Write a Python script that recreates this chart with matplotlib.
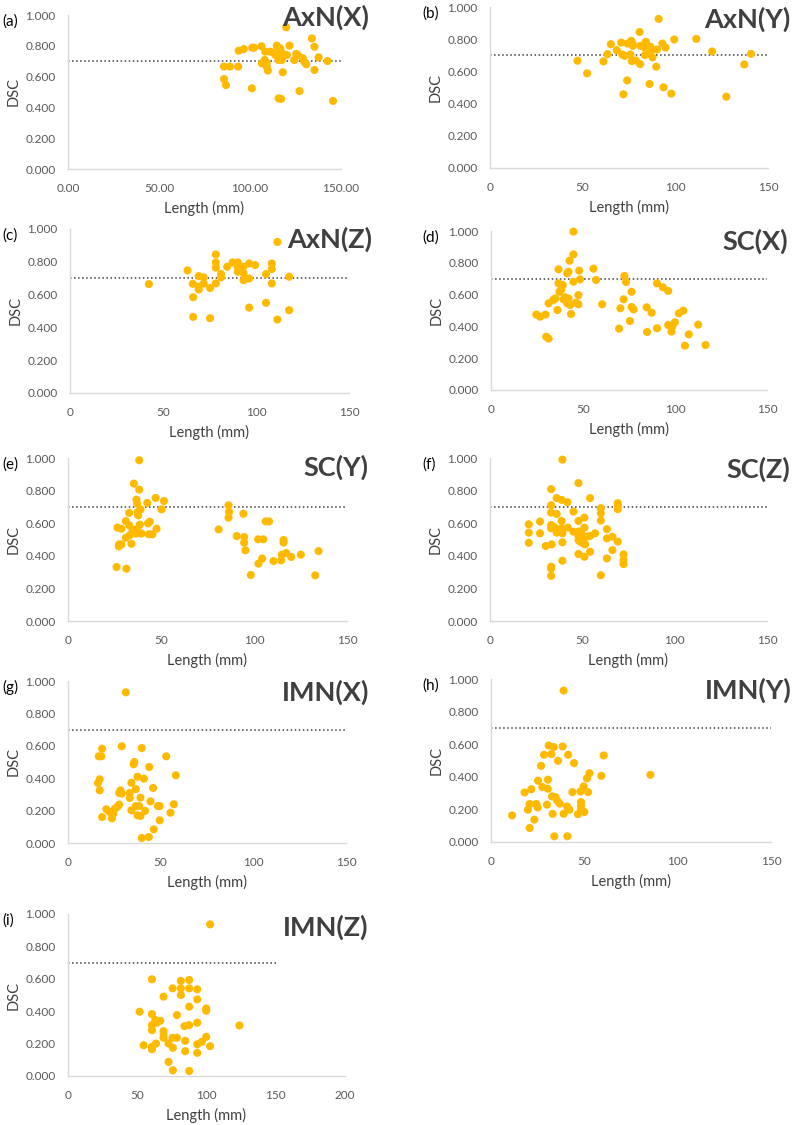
import matplotlib
matplotlib.use('Agg')
from matplotlib import pyplot as plt
from matplotlib.ticker import FormatStrFormatter

plt.rcParams['font.family'] = ['Lato', 'DejaVu Sans']

# panel names
panel_tags = ['(a)', '(b)', '(c)', '(d)', '(e)', '(f)', '(g)', '(h)', '(i)']
panel_names = ['AxN(X)', 'AxN(Y)', 'AxN(Z)', 'SC(X)', 'SC(Y)', 'SC(Z)', 'IMN(X)', 'IMN(Y)', 'IMN(Z)']

# threshold line
thr_x = [0, 150]
thr_y = [0.70, 0.70]

# (a) AxN(X)
a_len = [85.7, 85.7, 89.0, 86.8, 93.5, 93.8, 96.6, 101.2, 102.3, 101.0,
         106.3, 106.5, 108.0, 108.3, 109.2, 109.2, 109.8, 111.0, 113.0, 114.0,
         114.7, 115.3, 115.7, 116.2, 116.6, 117.0, 117.5, 115.7, 117.1, 118.0,
         119.3, 119.9, 120.3, 121.7, 124.3, 125.4, 126.3, 127.2, 129.0, 129.8,
         130.9, 134.0, 135.4, 135.4, 137.7, 142.6, 145.6]
a_dsc = [0.665, 0.584, 0.665, 0.545, 0.665, 0.768, 0.779, 0.788, 0.788, 0.524,
         0.797, 0.686, 0.708, 0.762, 0.690, 0.665, 0.639, 0.762, 0.755, 0.740,
         0.801, 0.773, 0.708, 0.740, 0.784, 0.762, 0.708, 0.459, 0.455, 0.628,
         0.740, 0.920, 0.740, 0.801, 0.708, 0.747, 0.740, 0.506, 0.719, 0.697,
         0.680, 0.848, 0.794, 0.643, 0.725, 0.701, 0.442]

# (b) AxN(Y)
b_len = [47.2, 52.4, 61.2, 63.4, 65.2, 68.4, 70.8, 71.3, 72.0, 72.6,
         74.0, 74.2, 75.8, 76.2, 76.5, 76.9, 77.1, 78.7, 80.7, 81.0,
         81.2, 83.0, 83.6, 84.1, 85.5, 86.1, 86.6, 87.3, 87.7, 89.7,
         90.1, 91.0, 93.0, 93.6, 94.7, 97.8, 99.4, 111.3, 119.9, 127.5,
         137.2, 140.8]
b_dsc = [0.666, 0.588, 0.662, 0.707, 0.769, 0.732, 0.779, 0.705, 0.458, 0.697,
         0.544, 0.773, 0.705, 0.790, 0.664, 0.773, 0.759, 0.668, 0.845, 0.645,
         0.759, 0.750, 0.701, 0.784, 0.711, 0.522, 0.753, 0.732, 0.687, 0.629,
         0.736, 0.926, 0.773, 0.501, 0.748, 0.462, 0.798, 0.802, 0.724, 0.443,
         0.643, 0.709]

# (c) AxN(Z)
c_len = [42.4, 63.2, 66.0, 66.2, 66.2, 69.2, 69.2, 69.2, 71.9, 71.9,
         75.3, 75.3, 78.4, 78.4, 78.4, 78.4, 81.2, 81.2, 84.5, 87.4,
         90.2, 90.2, 90.2, 91.5, 93.3, 93.3, 93.3, 96.3, 96.3, 96.3,
         99.5, 105.4, 105.4, 108.5, 108.5, 108.5, 111.5, 111.5, 117.8, 117.8]
c_dsc = [0.664, 0.747, 0.666, 0.584, 0.464, 0.713, 0.648, 0.631, 0.705, 0.668,
         0.640, 0.456, 0.845, 0.796, 0.764, 0.668, 0.725, 0.705, 0.770, 0.796,
         0.796, 0.770, 0.739, 0.750, 0.770, 0.729, 0.688, 0.790, 0.698, 0.521,
         0.780, 0.725, 0.550, 0.790, 0.756, 0.668, 0.921, 0.448, 0.709, 0.505]

# (d) SC(X)
d_len = [24.6, 26.7, 29.6, 30.0, 31.3, 31.3, 33.8, 34.9, 36.1, 36.7,
         36.7, 37.2, 38.1, 39.0, 39.4, 40.3, 40.8, 41.4, 41.4, 42.1,
         42.1, 42.7, 43.0, 43.5, 44.8, 44.8, 44.8, 46.1, 47.5, 47.5,
         47.9, 48.4, 55.7, 57.1, 60.4, 69.6, 70.3, 72.1, 72.5, 73.4,
         75.5, 76.4, 76.4, 77.5, 84.6, 84.8, 87.3, 90.2, 90.2, 93.4,
         96.3, 96.3, 98.1, 98.5, 99.9, 102.1, 104.5, 105.4, 107.5, 112.6,
         116.6]
d_dsc = [0.474, 0.461, 0.474, 0.335, 0.323, 0.545, 0.566, 0.576, 0.503, 0.759,
         0.671, 0.618, 0.629, 0.660, 0.570, 0.583, 0.570, 0.734, 0.545, 0.744,
         0.576, 0.813, 0.535, 0.478, 0.996, 0.853, 0.681, 0.549, 0.597, 0.539,
         0.751, 0.696, 0.763, 0.692, 0.539, 0.386, 0.514, 0.570, 0.717, 0.679,
         0.434, 0.618, 0.522, 0.507, 0.520, 0.365, 0.486, 0.671, 0.388, 0.646,
         0.623, 0.409, 0.367, 0.398, 0.426, 0.482, 0.499, 0.279, 0.350, 0.411,
         0.283]

# (e) SC(Y)
e_len = [26.1, 26.6, 27.3, 27.5, 28.7, 28.7, 31.1, 31.1, 31.4, 32.9,
         32.9, 33.2, 34.1, 34.7, 35.4, 35.9, 36.5, 36.8, 37.2, 37.4,
         37.5, 37.7, 38.3, 38.3, 38.6, 39.0, 39.5, 42.6, 43.0, 43.5,
         44.0, 45.4, 47.1, 47.6, 50.3, 51.6, 81.0, 86.3, 86.6, 86.3,
         90.7, 94.3, 94.7, 94.7, 95.4, 98.3, 102.4, 102.2, 104.4, 105.0,
         106.3, 108.1, 110.5, 114.6, 115.0, 115.9, 115.9, 117.3, 120.0, 125.2,
         132.9, 134.7]
e_dsc = [0.331, 0.573, 0.458, 0.470, 0.566, 0.470, 0.613, 0.511, 0.321, 0.663,
         0.587, 0.526, 0.474, 0.556, 0.843, 0.560, 0.536, 0.744, 0.720, 0.556,
         0.669, 0.648, 0.986, 0.806, 0.591, 0.685, 0.536, 0.724, 0.599, 0.532,
         0.609, 0.532, 0.755, 0.566, 0.685, 0.736, 0.562, 0.710, 0.669, 0.634,
         0.521, 0.658, 0.515, 0.481, 0.434, 0.282, 0.352, 0.501, 0.383, 0.501,
         0.611, 0.611, 0.368, 0.372, 0.407, 0.497, 0.481, 0.417, 0.393, 0.407,
         0.280, 0.429]

# (f) SC(Z)
f_len = [21.0, 21.0, 21.0, 27.1, 27.1, 30.2, 33.1, 33.1, 33.1, 33.1,
         33.1, 33.4, 33.1, 33.1, 33.1, 34.9, 36.1, 36.1, 36.5, 36.1,
         38.8, 38.8, 38.8, 39.2, 39.2, 39.2, 39.2, 41.9, 42.1, 45.2,
         45.2, 47.9, 47.9, 47.9, 47.9, 47.9, 47.9, 48.8, 49.3, 50.1,
         50.6, 51.1, 51.1, 51.1, 51.5, 52.4, 54.2, 54.2, 54.2, 56.9,
         60.0, 60.0, 60.0, 60.0, 63.3, 63.3, 63.3, 66.3, 66.3, 69.2,
         69.2, 69.2, 69.2, 72.3, 72.3, 72.3]
f_dsc = [0.593, 0.542, 0.480, 0.610, 0.538, 0.460, 0.809, 0.710, 0.665, 0.589,
         0.569, 0.470, 0.333, 0.322, 0.277, 0.575, 0.754, 0.657, 0.563, 0.542,
         0.743, 0.614, 0.569, 0.538, 0.483, 0.370, 0.990, 0.729, 0.573, 0.671,
         0.548, 0.846, 0.614, 0.548, 0.517, 0.497, 0.411, 0.487, 0.538, 0.517,
         0.476, 0.634, 0.573, 0.394, 0.470, 0.517, 0.754, 0.522, 0.425, 0.538,
         0.692, 0.661, 0.616, 0.281, 0.563, 0.507, 0.384, 0.517, 0.435, 0.723,
         0.708, 0.686, 0.487, 0.409, 0.374, 0.349]

# (g) IMN(X)
g_len = [31.2, 16.2, 17.1, 17.1, 16.6, 18.0, 18.4, 18.4, 20.7, 22.5,
         23.7, 24.4, 25.3, 26.5, 27.6, 27.6, 28.3, 29.0, 29.0, 33.3,
         33.3, 34.2, 34.2, 35.4, 35.8, 36.6, 36.6, 37.5, 37.5, 38.4,
         39.1, 39.1, 39.8, 39.8, 41.0, 41.6, 43.6, 43.8, 44.5, 45.9,
         46.3, 48.5, 49.5, 49.5, 53.0, 55.3, 57.1, 58.2]
g_dsc = [0.930, 0.370, 0.393, 0.325, 0.535, 0.535, 0.582, 0.160, 0.208, 0.191,
         0.152, 0.181, 0.212, 0.222, 0.237, 0.309, 0.325, 0.305, 0.597, 0.309,
         0.278, 0.202, 0.372, 0.486, 0.500, 0.333, 0.228, 0.409, 0.171, 0.228,
         0.280, 0.167, 0.586, 0.031, 0.397, 0.198, 0.037, 0.469, 0.257, 0.340,
         0.084, 0.228, 0.228, 0.140, 0.535, 0.187, 0.239, 0.418]

# (h) IMN(Y)
h_len = [11.3, 18.0, 19.8, 20.7, 20.7, 21.6, 23.2, 24.3, 25.0, 25.2,
         26.8, 27.5, 28.4, 30.0, 30.4, 30.5, 30.9, 32.3, 32.7, 33.0,
         33.6, 33.9, 34.5, 35.4, 35.9, 36.8, 38.4, 38.9, 38.9, 40.7,
         40.9, 41.3, 42.0, 43.6, 44.5, 46.6, 47.9, 48.2, 48.2, 48.2,
         49.6, 50.0, 51.4, 52.0, 52.7, 59.1, 60.4, 85.4]
h_dsc = [0.163, 0.304, 0.198, 0.233, 0.086, 0.324, 0.137, 0.233, 0.212, 0.376,
         0.467, 0.337, 0.535, 0.229, 0.327, 0.382, 0.592, 0.539, 0.280, 0.173,
         0.582, 0.035, 0.276, 0.255, 0.498, 0.235, 0.586, 0.929, 0.173, 0.218,
         0.035, 0.535, 0.198, 0.306, 0.484, 0.171, 0.310, 0.245, 0.224, 0.204,
         0.341, 0.184, 0.390, 0.306, 0.422, 0.406, 0.531, 0.412]

# (i) IMN(Z)
i_len = [51.7, 54.6, 60.6, 60.6, 60.6, 60.6, 60.6, 60.6, 63.0, 63.5,
         64.2, 66.6, 69.0, 69.0, 69.0, 69.0, 72.6, 72.6, 75.5, 75.5,
         75.7, 75.7, 78.6, 78.6, 81.5, 81.5, 81.5, 84.1, 84.6, 84.6,
         87.5, 87.5, 87.5, 87.5, 87.5, 93.3, 93.3, 93.3, 93.3, 93.3,
         96.6, 99.8, 99.8, 99.8, 102.6, 102.6, 123.8]
i_dsc = [0.397, 0.190, 0.597, 0.382, 0.314, 0.283, 0.180, 0.165, 0.345, 0.200,
         0.329, 0.341, 0.490, 0.277, 0.256, 0.236, 0.200, 0.087, 0.541, 0.236,
         0.174, 0.035, 0.376, 0.236, 0.587, 0.541, 0.500, 0.308, 0.217, 0.153,
         0.593, 0.541, 0.428, 0.314, 0.031, 0.535, 0.473, 0.329, 0.196, 0.143,
         0.211, 0.417, 0.403, 0.242, 0.936, 0.184, 0.312]

all_len = [a_len, b_len, c_len, d_len, e_len, f_len, g_len, h_len, i_len]
all_dsc = [a_dsc, b_dsc, c_dsc, d_dsc, e_dsc, f_dsc, g_dsc, h_dsc, i_dsc]
x_max = [150, 150, 150, 150, 150, 150, 150, 150, 200]
x_step = [50, 50, 50, 50, 50, 50, 50, 50, 50]

W, H = 795, 1125
# axes boxes in pixels: left, top, right, bottom
boxes = [(68, 15, 341, 169), (490, 7, 768, 168),
         (70, 229, 349, 393), (491, 231, 767, 390),
         (68, 458, 347, 621), (490, 458, 767, 621),
         (68, 681, 346, 843), (491, 679, 771, 842),
         (68, 914, 345, 1076)]
# right/top of the bold names
name_pos = [(369, 5), (790, 7), (372, 227), (788, 229), (368, 455),
            (790, 457), (369, 680), (792, 678), (368, 915)]

dot = '#FFBA00'
axis_c = '#D9D9D9'
txt_c = '#595959'

fig = plt.figure(figsize=(W / 100, H / 100), dpi=100)

for k in range(9):
    l, t, r, b = boxes[k]
    ax = fig.add_axes([l / W, 1 - b / H, (r - l) / W, (b - t) / H])
    ax.scatter(all_len[k], all_dsc[k], s=34, color=dot, edgecolors='none',
               zorder=3, clip_on=False)
    ax.plot(thr_x, thr_y, linestyle=':', color='#404040', linewidth=1.1, zorder=2)
    ax.set_xlim(0, x_max[k])
    ax.set_ylim(0, 1.0)
    ax.set_xticks(list(range(0, x_max[k] + 1, x_step[k])))
    ax.set_yticks([0, 0.2, 0.4, 0.6, 0.8, 1.0])
    ax.yaxis.set_major_formatter(FormatStrFormatter('%.3f'))
    if k == 0:
        ax.xaxis.set_major_formatter(FormatStrFormatter('%.2f'))
    for s in ['top', 'right']:
        ax.spines[s].set_visible(False)
    for s in ['left', 'bottom']:
        ax.spines[s].set_color(axis_c)
        ax.spines[s].set_linewidth(1.0)
    ax.tick_params(length=0, labelsize=8.5, labelcolor=txt_c)
    ax.tick_params(axis='y', pad=9)
    ax.tick_params(axis='x', pad=10)
    ax.set_xlabel('Length (mm)', fontsize=10.5, color='#404040', labelpad=5)
    ax.set_ylabel('DSC', fontsize=10.5, color='#404040', labelpad=3)
    ax.patch.set_alpha(0)

    # panel tag
    tx = 2 if k % 2 == 0 else 422
    fig.text(tx / W, 1 - (t - 1) / H, panel_tags[k], fontsize=11,
             ha='left', va='top', color='black')
    nx, ny = name_pos[k]
    fig.text(nx / W, 1 - ny / H, panel_names[k], fontsize=19.5, fontweight='bold',
             ha='right', va='top', color='#404040')

plt.savefig('out.png', dpi=100)
